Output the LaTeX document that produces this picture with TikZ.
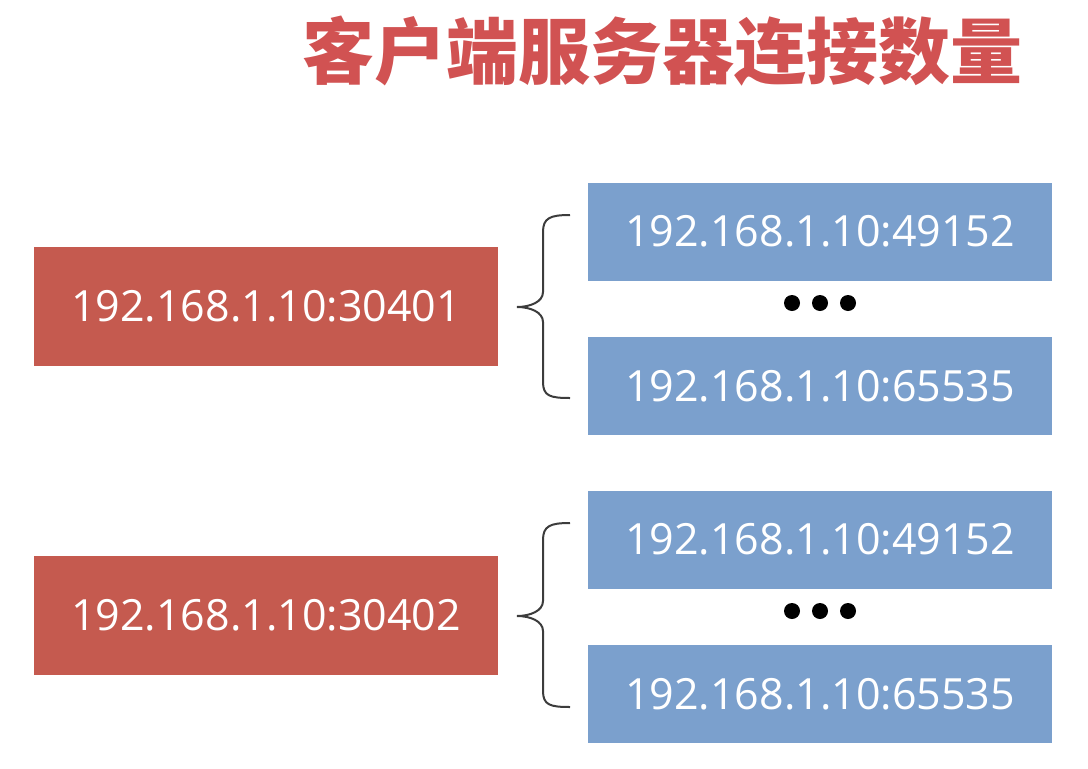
\documentclass[tikz,border=0pt]{standalone}
\usepackage{fontspec}
\setmainfont{Open Sans}
\newfontfamily\cjk{Noto Sans CJK SC}
\definecolor{clientred}{RGB}{197,90,79}
\definecolor{serverblue}{RGB}{123,160,205}
\definecolor{titlered}{RGB}{209,82,82}
\definecolor{bracegray}{RGB}{60,60,60}
\tikzset{
    client/.style={fill=clientred, text=white, minimum width=464, minimum height=119, inner sep=0pt, font=\fontsize{43}{50}\selectfont},
    server/.style={fill=serverblue, text=white, minimum width=464, minimum height=98, inner sep=0pt, font=\fontsize{43}{50}\selectfont},
    dot/.style={circle, fill=black, minimum size=16, inner sep=0pt},
    bracket/.style={draw=bracegray, line width=2pt}
}

\begin{document}
\begin{tikzpicture}[x=1pt, y=-1pt]
            \useasboundingbox (0,0) rectangle (1088,769);
            \node[text=titlered, font=\cjk\bfseries\fontsize{72}{80}\selectfont] (title) at (662,51) {客户端服务器连接数量};

            \node[client] (c1) at (266,306.5) {192.168.1.10:30401};
            \node[server] (s11) at (820,231.5) {192.168.1.10:49152};
            \node[dot] (d11) at (792,303) {};
            \node[dot] (d12) at (820,303) {};
            \node[dot] (d13) at (848,303) {};
            \node[server] (s12) at (820,386) {192.168.1.10:65535};
            \coordinate (b1t) at (570,215);
            \coordinate (b1m) at (517,307);
            \coordinate (b1b) at (570,398);
            \draw[bracket] (b1t) .. controls (550,215) and (543,218) .. (543,232) -- (543,292)
                .. controls (543,302) and (530,307) .. (b1m)
                .. controls (530,307) and (543,312) .. (543,322) -- (543,382)
                .. controls (543,396) and (550,398) .. (b1b);

            \node[client] (c2) at (266,615) {192.168.1.10:30402};
            \node[server] (s21) at (820,539.5) {192.168.1.10:49152};
            \node[dot] (d21) at (792,611) {};
            \node[dot] (d22) at (820,611) {};
            \node[dot] (d23) at (848,611) {};
            \node[server] (s22) at (820,694) {192.168.1.10:65535};
            \coordinate (b2t) at (570,523);
            \coordinate (b2m) at (517,616);
            \coordinate (b2b) at (570,707);
            \draw[bracket] (b2t) .. controls (550,523) and (543,526) .. (543,540) -- (543,601)
                .. controls (543,611) and (530,616) .. (b2m)
                .. controls (530,616) and (543,621) .. (543,631) -- (543,691)
                .. controls (543,705) and (550,707) .. (b2b);
\end{tikzpicture}
\end{document}
